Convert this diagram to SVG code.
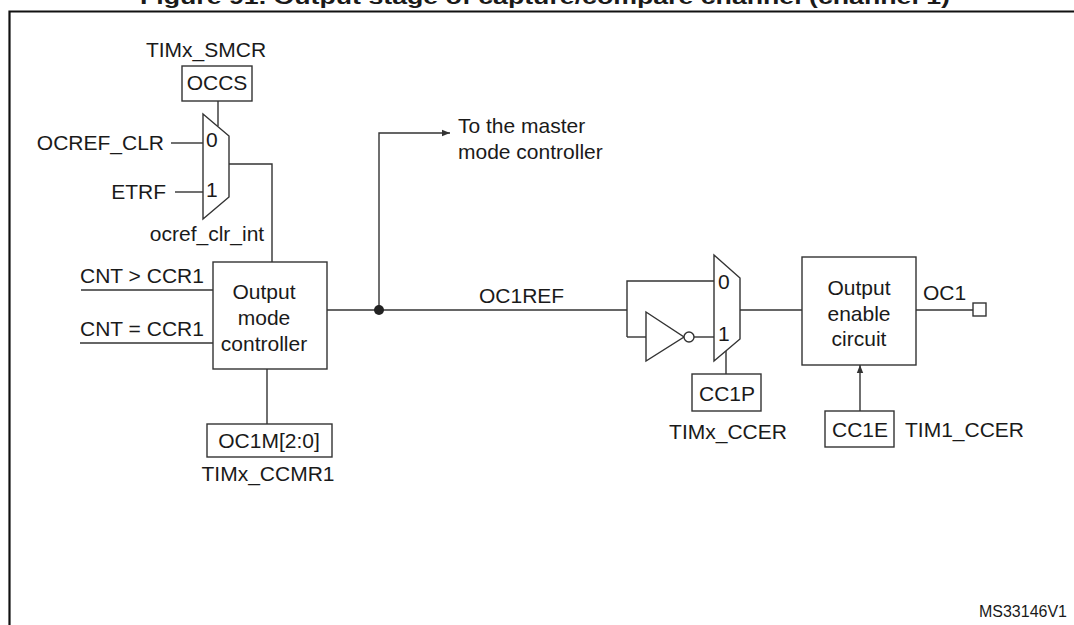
<svg xmlns="http://www.w3.org/2000/svg" width="1074" height="625" viewBox="0 0 1074 625">
<defs>
<style>
text{font-family:"Liberation Sans",Arial,sans-serif;font-size:21px;fill:#1a1a1a}
.m{text-anchor:middle}
.e{text-anchor:end}
.b{fill:#fff;stroke:#333;stroke-width:1.4}
.w{fill:none;stroke:#333;stroke-width:1.4}
</style>
<marker id="ar" viewBox="0 0 10 10" refX="10" refY="5" markerWidth="8" markerHeight="8" markerUnits="userSpaceOnUse" orient="auto">
<path d="M0,1 L10,5 L0,9 z" fill="#333"/>
</marker>
</defs>
<rect width="1074" height="625" fill="#fff"/>
<text x="545" y="4" class="m" style="font-weight:bold;font-size:21px" textLength="810" lengthAdjust="spacingAndGlyphs">Figure 91. Output stage of capture/compare channel (channel 1)</text>
<path d="M9.5,640 V11.5 H1090" fill="none" stroke="#111" stroke-width="2.2"/>

<g id="connectors">
<path class="w" d="M218,101 V126"/>
<path class="w" d="M171,143 H203"/>
<path class="w" d="M175,192 H203"/>
<path class="w" d="M229,164 H272 V262"/>
<path class="w" d="M81,290 H213"/>
<path class="w" d="M80,343 H213"/>
<path class="w" d="M267,369 V424"/>
<path class="w" d="M327,310 H627"/>
<path class="w" d="M379,310 V133 H450" marker-end="url(#ar)"/>
<path class="w" d="M627,337 V281 H714"/>
<path class="w" d="M627,337 H646"/>
<path class="w" d="M694,337 H714"/>
<path class="w" d="M740,310 H802"/>
<path class="w" d="M726,351 V374"/>
<path class="w" d="M916,310 H973"/>
<path class="w" d="M860,411 V365" marker-end="url(#ar)"/>
<circle cx="379" cy="310" r="5" fill="#222"/>
</g>

<g id="smcr">
<text x="206" y="57" class="m">TIMx_SMCR</text>
<rect class="b" x="182" y="66" width="70" height="35"/>
<text x="217" y="90" class="m">OCCS</text>
</g>

<g id="mux1">
<path class="b" d="M203,114 L229,136 V197 L203,219 Z"/>
<text x="206" y="147">0</text>
<text x="206" y="197">1</text>
</g>
<g id="in-labels">
<text x="164" y="150" class="e">OCREF_CLR</text>
<text x="166" y="199" class="e">ETRF</text>
<text x="207" y="241" class="m">ocref_clr_int</text>
<text x="80" y="283">CNT &gt; CCR1</text>
<text x="80" y="336">CNT = CCR1</text>
</g>

<g id="omc">
<rect class="b" x="213" y="262" width="114" height="107"/>
<text x="264" y="299" class="m">Output</text>
<text x="264" y="325" class="m">mode</text>
<text x="264" y="351" class="m">controller</text>
</g>

<g id="oc1m">
<rect class="b" x="207" y="424" width="125" height="33"/>
<text x="269" y="448" class="m">OC1M[2:0]</text>
<text x="268" y="481" class="m">TIMx_CCMR1</text>
</g>

<g id="master">
<text x="458" y="133">To the master</text>
<text x="458" y="159">mode controller</text>
</g>

<g id="oc1ref">
<text x="479" y="303">OC1REF</text>
</g>

<g id="inverter">
<path class="b" d="M646,312 L684,337 L646,361 Z"/>
<circle class="b" cx="689" cy="337" r="5"/>
</g>

<g id="mux2">
<path class="b" d="M714,255 L740,278 V339 L714,361 Z"/>
<text x="718" y="289">0</text>
<text x="718" y="341">1</text>
</g>

<g id="cc1p">
<rect class="b" x="692" y="374" width="69" height="37"/>
<text x="727" y="401" class="m">CC1P</text>
<text x="728" y="439" class="m">TIMx_CCER</text>
</g>

<g id="oec">
<rect class="b" x="802" y="257" width="114" height="108"/>
<text x="859" y="295" class="m">Output</text>
<text x="859" y="321" class="m">enable</text>
<text x="859" y="346" class="m">circuit</text>
</g>

<g id="oc1">
<text x="923" y="300">OC1</text>
<rect class="b" x="973" y="303" width="13" height="13"/>
</g>

<g id="cc1e">
<rect class="b" x="825" y="411" width="69" height="36"/>
<text x="860" y="437" class="m">CC1E</text>
<text x="905" y="437">TIM1_CCER</text>
</g>

<text x="1067" y="617" class="e" style="font-size:16px">MS33146V1</text>
</svg>
